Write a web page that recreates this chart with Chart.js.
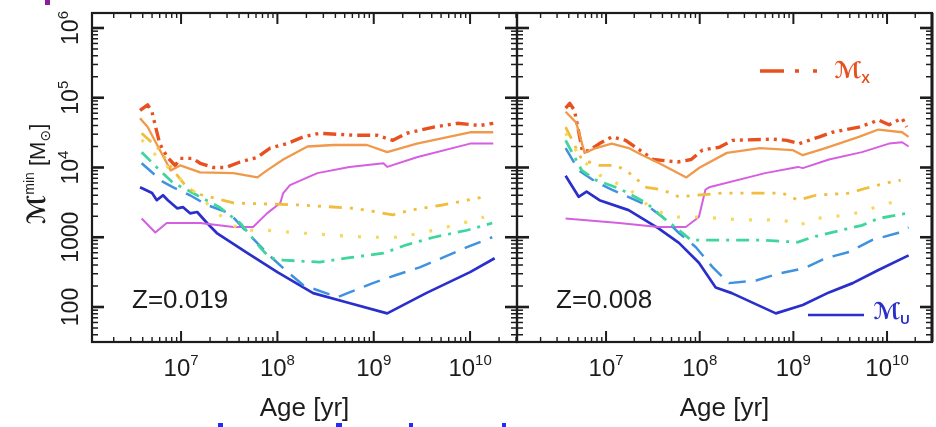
<!DOCTYPE html>
<html>
<head>
<meta charset="utf-8">
<script src="https://cdn.jsdelivr.net/npm/chart.js@4.4.1/dist/chart.umd.min.js"></script>
<style>
  html, body { margin: 0; padding: 0; background: #fff; }
  #wrap { position: relative; width: 936px; height: 427px; overflow: hidden; background: #fff; }
  #wrap canvas { position: absolute; left: 0; top: 0; }
  .mark { position: absolute; }
</style>
</head>
<body>
<div id="wrap">
  <canvas id="panel-z019" width="936" height="427"></canvas>
  <canvas id="panel-z008" width="936" height="427"></canvas>
  <div class="mark" style="left:45px;top:0;width:5px;height:5px;background:#8b1e9b"></div>
  <div class="mark" style="left:218px;top:423px;width:5px;height:4px;background:#1f2bff"></div>
  <div class="mark" style="left:336px;top:423px;width:6px;height:4px;background:#1f2bff"></div>
  <div class="mark" style="left:409px;top:423px;width:4px;height:4px;background:#1f2bff"></div>
  <div class="mark" style="left:502px;top:423px;width:4px;height:4px;background:#1f2bff"></div>
</div>
<script>
// ages in yr, masses in Msun
const xDecades = [7, 8, 9, 10];
const yTickLabels = [[100, '100'], [1000, '1000'], [1e4, '10', '4'], [1e5, '10', '5'], [1e6, '10', '6']];

// Z = 0.019 (left panel)
const z019MX = [[3.75e6, 66000], [4.5e6, 79000], [5.0e6, 62000], [6.0e6, 22000], [7.2e6, 14000], [8.7e6, 10700], [9.8e6, 13500], [1.32e7, 13500], [1.58e7, 11500], [2.15e7, 10000], [2.9e7, 10000], [4.1e7, 12000], [6.2e7, 14000], [8.4e7, 19000], [1.26e8, 22000], [1.86e8, 27500], [2.75e8, 31000], [6.2e8, 29000], [1.07e9, 29000], [1.58e9, 24500], [2.2e9, 31000], [4.2e9, 38000], [7.4e9, 43000], [1.26e10, 40000], [1.74e10, 43000]];
const z019Orange = [[3.75e6, 51000], [4.5e6, 38000], [6.0e6, 18000], [7.8e6, 9100], [9.8e6, 10700], [1.58e7, 8500], [3.5e7, 8300], [6.2e7, 7200], [7.8e7, 9100], [1.15e8, 13000], [2.05e8, 20000], [3.8e8, 21000], [8.5e8, 21000], [1.38e9, 16600], [2.8e9, 22000], [1e10, 32000], [1.74e10, 32000]];
const z019Magenta = [[3.9e6, 1860], [5.4e6, 1170], [7.1e6, 1600], [1.58e7, 1600], [3.5e7, 1400], [5.6e7, 1400], [7.8e7, 2200], [1.07e8, 3100], [1.15e8, 4300], [1.35e8, 5600], [2.6e8, 8300], [5.6e8, 10200], [1.26e9, 11500], [1.38e9, 10200], [2.8e9, 14000], [1e10, 22000], [1.74e10, 22000]];
const z019YellowDashDot = [[3.9e6, 31000], [6e6, 18000], [8.3e6, 9100], [1.15e7, 5200], [1.47e7, 4200], [3.5e7, 3100], [1.74e8, 2900], [6.2e8, 2600], [1.07e9, 2300], [1.58e9, 2100], [2.4e9, 2450], [5.2e9, 2900], [9.3e9, 3400], [1.4e10, 3800]];
const z019YellowDot = [[3.9e6, 25000], [6e6, 13000], [1.15e7, 5600], [2.5e7, 2100], [4.1e7, 1260], [7.8e7, 1260], [1.74e8, 1150], [3.8e8, 1070], [8.5e8, 1000], [1.86e9, 1000], [4.2e9, 1260], [9.3e9, 1660], [1.4e10, 1950]];
const z019Green = [[3.9e6, 16600], [6e6, 9100], [8.3e6, 6000], [1.15e7, 4800], [2.5e7, 2700], [4.1e7, 1600], [6.6e7, 720], [8.3e7, 510], [1.15e8, 470], [2.75e8, 440], [5.6e8, 510], [1.26e9, 590], [2.2e9, 780], [4.2e9, 1000], [9.3e9, 1260], [1.7e10, 1600]];
const z019BlueDash = [[3.9e6, 11500], [6.5e6, 6200], [8.3e6, 5200], [1.24e7, 4000], [1.86e7, 2900], [3.2e7, 2200], [4.9e7, 1150], [7.8e7, 590], [1.15e8, 360], [1.86e8, 205], [4.2e8, 138], [5.6e8, 162], [9.8e8, 220], [1.74e9, 290], [3.0e9, 370], [5.2e9, 510], [9.3e9, 720], [1.7e10, 1000]];
const z019MU = [[3.75e6, 5200], [5.0e6, 4300], [5.6e6, 3400], [6.5e6, 4000], [7.3e6, 3400], [9.1e6, 2600], [1.05e7, 2700], [1.24e7, 2200], [1.47e7, 2300], [1.86e7, 1600], [2.35e7, 1150], [4.9e7, 590], [1e8, 316], [2.35e8, 158], [5.2e8, 117], [1.38e9, 81], [3.5e9, 158], [1e10, 316], [1.8e10, 500]];

// Z = 0.008 (right panel)
const z008MX = [[3.7e6, 71000], [4.1e6, 83000], [4.6e6, 66000], [5.6e6, 17000], [6.6e6, 17500], [8.5e6, 22000], [1.15e7, 27500], [1.62e7, 24500], [2.4e7, 17000], [3.2e7, 13000], [5.8e7, 12000], [8.1e7, 13000], [1.07e8, 17800], [1.62e8, 19500], [2.25e8, 24500], [6e8, 25500], [8.5e8, 24500], [1.15e9, 22000], [1.9e9, 27500], [2.6e9, 32000], [5e9, 38000], [6.9e9, 44000], [8.1e9, 48000], [1.05e10, 41000], [1.45e10, 51000], [1.62e10, 38000]];
const z008Orange = [[3.7e6, 63000], [4.8e6, 44000], [5.9e6, 16200], [7.8e6, 19000], [1.15e7, 22000], [1.74e7, 19000], [2.45e7, 15000], [3.7e7, 11500], [7.2e7, 7200], [1e8, 10000], [1.95e8, 16200], [4.4e8, 19000], [9.8e8, 17800], [1.26e9, 15000], [2.2e9, 19000], [5e9, 27500], [8.1e9, 35000], [1.45e10, 32000], [1.7e10, 27500]];
const z008Magenta = [[3.7e6, 1860], [1.38e7, 1600], [3.6e7, 1400], [7.1e7, 1400], [9.8e7, 1950], [1.15e8, 4800], [1.26e8, 5200], [5e8, 8300], [1.12e9, 10200], [1.26e9, 9800], [2.4e9, 13000], [5.4e9, 16600], [1.05e10, 22000], [1.45e10, 23000], [1.7e10, 20000]];
const z008YellowDashDot = [[3.7e6, 38000], [5.5e6, 13000], [8.5e6, 10700], [1.29e7, 10700], [1.74e7, 8500], [2.7e7, 5200], [4e7, 4800], [6e7, 3800], [1.74e8, 4300], [3.3e8, 4300], [7.6e8, 4300], [1.12e9, 3400], [1.74e9, 4000], [4e9, 4300], [5.8e9, 5000], [9.8e9, 6000], [1.4e10, 6600]];
const z008YellowDot = [[3.7e6, 31000], [5.5e6, 13000], [8.5e6, 7800], [1.8e7, 4800], [3.2e7, 2450], [5.5e7, 1950], [9.8e7, 1950], [2.7e8, 1780], [7.6e8, 1780], [1.15e9, 1480], [1.74e9, 1860], [4e9, 2100], [6e9, 2450], [8.9e9, 2900], [1.4e10, 3400]];
const z008Green = [[3.7e6, 24500], [5.5e6, 9100], [7.8e6, 6600], [1.38e7, 5000], [2.7e7, 3100], [4e7, 1950], [6e7, 1260], [8.1e7, 910], [1.38e8, 910], [4.4e8, 910], [1.12e9, 850], [1.58e9, 1000], [4e9, 1350], [5.4e9, 1480], [8.1e9, 1860], [1.35e10, 2100], [1.7e10, 2240]];
const z008BlueDash = [[3.7e6, 19000], [5.1e6, 9100], [7.8e6, 6200], [1.15e7, 4800], [2.7e7, 2900], [4e7, 1950], [6e7, 1150], [9.1e7, 720], [1.38e8, 370], [2.05e8, 220], [4e8, 240], [6.9e8, 300], [1.32e9, 360], [2.2e9, 500], [4e9, 620], [6.9e9, 910], [1.3e10, 1150], [1.7e10, 1380]];
const z008MU = [[3.7e6, 7600], [5.1e6, 3800], [6.2e6, 4500], [8.5e6, 3400], [1.74e7, 2450], [3.6e7, 1350], [6e7, 830], [9.8e7, 430], [1.48e8, 190], [2.2e8, 158], [6.5e8, 81], [1.26e9, 107], [2.4e9, 162], [4.3e9, 220], [8.1e9, 340], [1.7e10, 550]];

const styles = {
    yellowDot:     { color: '#f6d85a', width: 3.2, dash: [3, 15] },
    yellowDashDot: { color: '#f1bd3c', width: 2.8, dash: [13, 8, 3, 8, 3, 8, 3, 8] },
    green:         { color: '#3ed69c', width: 2.8, dash: [13, 7, 3, 7] },
    blueDash:      { color: '#3f92e0', width: 2.5, dash: [17, 10] },
    magenta:       { color: '#d65ee0', width: 2,   dash: [] },
    orange:        { color: '#f0994a', width: 2.3, dash: [] },
    mx:            { color: '#e8511f', width: 3.4, dash: [13, 5, 3, 5, 3, 5] },
    mu:            { color: '#2a2fcc', width: 2.7, dash: [] }
};

const FONT = '"Liberation Sans", Arial, Helvetica, sans-serif';
const SCRIPT = 'bold italic {s}px "DejaVu Sans", sans-serif';
const INK = '#1c1c1c';

function toPoints(pairs) {
    return pairs.map(p => ({ x: p[0], y: p[1] }));
}

function dataset(pairs, key) {
    const s = styles[key];
    return {
        data: toPoints(pairs),
        borderColor: s.color,
        borderWidth: s.width,
        borderDash: s.dash,
        borderJoinStyle: 'round',
        pointRadius: 0,
        tension: 0,
        fill: false
    };
}

// text pieces along one baseline: [text, size, raise, fontTemplate]
function setFont(ctx, p) {
    ctx.font = p[3] ? p[3].replace('{s}', p[1]) : `${p[1]}px ${FONT}`;
}
function richWidth(ctx, parts) {
    return parts.reduce((w, p) => {
        setFont(ctx, p);
        return w + ctx.measureText(p[0]).width;
    }, 0);
}
function drawRich(ctx, parts, x, y) {
    let cx = x;
    parts.forEach(p => {
        setFont(ctx, p);
        ctx.fillText(p[0], cx, y - p[2]);
        cx += ctx.measureText(p[0]).width;
    });
}

function line(ctx, x1, y1, x2, y2) {
    ctx.beginPath();
    ctx.moveTo(x1, y1);
    ctx.lineTo(x2, y2);
    ctx.stroke();
}

const framePlugin = {
    id: 'frame',
    afterDatasetsDraw(chart, args, opts) {
        const { ctx, chartArea: a } = chart;
        const xs = chart.scales.x, ys = chart.scales.y;
        ctx.save();
        ctx.strokeStyle = INK;
        ctx.setLineDash([]);

        // log ticks on the age axis, pointing inwards top and bottom
        for (let d = Math.floor(Math.log10(xs.min)); d <= Math.ceil(Math.log10(xs.max)); d++) {
            for (let k = 1; k < 10; k++) {
                const v = k * Math.pow(10, d);
                if (v < xs.min || v > xs.max) continue;
                const px = xs.getPixelForValue(v);
                const len = k === 1 ? 11 : 5;
                ctx.lineWidth = k === 1 ? 2 : 1.4;
                line(ctx, px, a.bottom, px, a.bottom - len);
                line(ctx, px, a.top, px, a.top + len);
            }
        }
        // log ticks on the mass axis, left and right sides
        for (let d = Math.floor(Math.log10(ys.min)); d <= Math.ceil(Math.log10(ys.max)); d++) {
            for (let k = 1; k < 10; k++) {
                const v = k * Math.pow(10, d);
                if (v < ys.min || v > ys.max) continue;
                const py = ys.getPixelForValue(v);
                const len = k === 1 ? 12 : 6;
                ctx.lineWidth = k === 1 ? 2.6 : 1.5;
                line(ctx, a.left, py, a.left + len, py);
                line(ctx, a.right, py, a.right - len, py);
            }
        }
        ctx.lineWidth = 2.2;
        ctx.strokeRect(a.left, a.top, a.right - a.left, a.bottom - a.top);
        if (opts.thickRight) {
            ctx.lineWidth = 3;
            line(ctx, a.right, a.top, a.right, a.bottom);
        }
        ctx.restore();
    },
    afterDraw(chart, args, opts) {
        const { ctx, chartArea: a } = chart;
        const xs = chart.scales.x, ys = chart.scales.y;
        ctx.save();
        ctx.fillStyle = INK;
        ctx.textBaseline = 'alphabetic';
        ctx.textAlign = 'left';

        // age tick labels
        xDecades.forEach(d => {
            const px = xs.getPixelForValue(Math.pow(10, d));
            const parts = [['10', 24, 0], [String(d), 15, 11]];
            const w = richWidth(ctx, parts);
            drawRich(ctx, parts, px - w / 2, 376);
        });

        // x title
        ctx.font = `26px ${FONT}`;
        const tw = ctx.measureText('Age [yr]').width;
        ctx.fillText('Age [yr]', (a.left + a.right) / 2 - tw / 2, 416);

        // metallicity label
        ctx.font = `26px ${FONT}`;
        ctx.fillText(opts.zLabel, opts.zX, 308);

        if (opts.yLabels) {
            yTickLabels.forEach(t => {
                const py = ys.getPixelForValue(t[0]);
                const parts = t.length > 2 ? [[t[1], 23, 0], [t[2], 15, 10]] : [[t[1], 23, 0]];
                const w = richWidth(ctx, parts);
                ctx.save();
                ctx.translate(78, py);
                ctx.rotate(-Math.PI / 2);
                drawRich(ctx, parts, -w / 2, 0);
                ctx.restore();
            });
            // y title
            const tparts = [['ℳ', 25, 0, SCRIPT], ['min', 14, 11], [' [M', 22, 0], ['⊙', 14, -5, '{s}px "DejaVu Sans", sans-serif'], [']', 22, 0]];
            const w = richWidth(ctx, tparts);
            ctx.save();
            ctx.translate(45, 174);
            ctx.rotate(-Math.PI / 2);
            drawRich(ctx, tparts, -w / 2, 0);
            ctx.restore();
        }

        if (opts.legend) {
            ctx.lineCap = 'butt';
            ctx.strokeStyle = styles.mx.color;
            ctx.lineWidth = 3.4;
            ctx.setLineDash([24, 11, 4, 14, 4, 40]);
            line(ctx, 760, 71, 822, 71);
            ctx.setLineDash([]);
            ctx.fillStyle = styles.mx.color;
            drawRich(ctx, [['ℳ', 23, 0, SCRIPT], ['X', 13, -5, 'bold {s}px ' + FONT]], 834, 78);

            ctx.strokeStyle = styles.mu.color;
            ctx.lineWidth = 2.7;
            line(ctx, 808, 315, 864, 315);
            ctx.fillStyle = styles.mu.color;
            drawRich(ctx, [['ℳ', 23, 0, SCRIPT], ['U', 13, -5, 'bold {s}px ' + FONT]], 873, 319);
        }
        ctx.restore();
    }
};

function makePanel(id, series, area, xMin, xMax, extra) {
    const datasets = [
        dataset(series.yellowDot, 'yellowDot'),
        dataset(series.yellowDashDot, 'yellowDashDot'),
        dataset(series.green, 'green'),
        dataset(series.blueDash, 'blueDash'),
        dataset(series.magenta, 'magenta'),
        dataset(series.orange, 'orange'),
        dataset(series.mx, 'mx'),
        dataset(series.mu, 'mu')
    ];
    return new Chart(document.getElementById(id), {
        type: 'line',
        data: { datasets },
        options: {
            responsive: false,
            animation: false,
            events: [],
            layout: { padding: { left: area.left, right: 936 - area.right, top: area.top, bottom: 427 - area.bottom } },
            scales: {
                x: { type: 'logarithmic', min: xMin, max: xMax, display: false },
                y: { type: 'logarithmic', min: 31.5, max: 1.64e6, display: false }
            },
            plugins: {
                legend: { display: false },
                tooltip: { enabled: false },
                frame: extra
            }
        },
        plugins: [framePlugin]
    });
}

makePanel('panel-z019', {
    mx: z019MX, orange: z019Orange, magenta: z019Magenta, yellowDashDot: z019YellowDashDot,
    yellowDot: z019YellowDot, green: z019Green, blueDash: z019BlueDash, mu: z019MU
}, { left: 92, right: 517, top: 13, bottom: 342 }, 1.19e6, 3.07e10,
{ zLabel: 'Z=0.019', zX: 132, yLabels: true });

makePanel('panel-z008', {
    mx: z008MX, orange: z008Orange, magenta: z008Magenta, yellowDashDot: z008YellowDashDot,
    yellowDot: z008YellowDot, green: z008Green, blueDash: z008BlueDash, mu: z008MU
}, { left: 517, right: 932, top: 13, bottom: 342 }, 1.12e6, 3.02e10,
{ zLabel: 'Z=0.008', zX: 556, legend: true, thickRight: true });
</script>
</body>
</html>
